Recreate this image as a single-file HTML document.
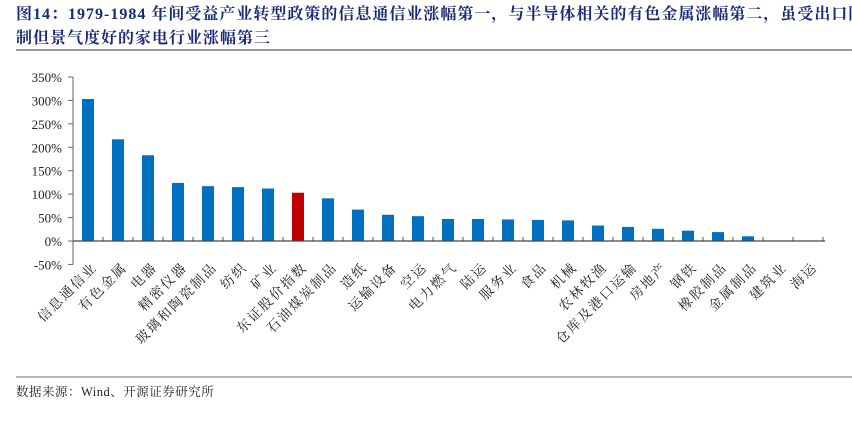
<!DOCTYPE html>
<html><head><meta charset="utf-8"><style>
body{margin:0;background:#fff;}
svg text{font-family:"Liberation Serif","Noto Serif CJK SC",serif;}
</style></head><body>
<svg width="852" height="426" xmlns="http://www.w3.org/2000/svg">
<text x="16" y="19" font-size="16" letter-spacing="1" font-weight="bold" fill="#1a2a7a">图14：1979-1984 年间受益产业转型政策的信息通信业涨幅第一，与半导体相关的有色金属涨幅第二，虽受出口限</text>
<text x="16" y="43" font-size="16" letter-spacing="1" font-weight="bold" fill="#1a2a7a">制但景气度好的家电行业涨幅第三</text>
<line x1="16" y1="50" x2="852" y2="50" stroke="#333" stroke-width="1"/>
<g id="plot"></g>
<line x1="16" y1="377" x2="852" y2="377" stroke="#444" stroke-width="0.8"/>
<text x="16" y="396" font-size="12.5" letter-spacing="0.5" fill="#222">数据来源：Wind、开源证券研究所</text>
</svg>
<script>
const categories=["信息通信业","有色金属","电器","精密仪器","玻璃和陶瓷制品","纺织","矿业","东证股价指数","石油煤炭制品","造纸","运输设备","空运","电力燃气","陆运","服务业","食品","机械","农林牧渔","仓库及港口运输","房地产","钢铁","橡胶制品","金属制品","建筑业","海运"];
const values=[303,217,183,124,117,115,112,103,91,67,56,53,47,47,46,45,44,33,30,26,22,19,10,0,0];
const highlight="东证股价指数";
const yTicks=[-50,0,50,100,150,200,250,300,350];
const NS="http://www.w3.org/2000/svg";
const g=document.getElementById('plot');
const x0=73,band=30,zeroY=241,pxPer=23.43/50;
const y=v=>zeroY-v*pxPer;
const xc=i=>x0+band*i+band/2;
function mk(t,a){const e=document.createElementNS(NS,t);for(const k in a)e.setAttribute(k,a[k]);g.appendChild(e);return e;}
yTicks.forEach(t=>{
 const tx=mk('text',{x:62,y:y(t)+5,'font-size':13,'text-anchor':'end',fill:'#222'});
 
 
 tx.textContent=t+'%';
 const tk=mk('line',{x1:68,x2:73,y1:y(t),y2:y(t),stroke:'#666'});
 
 
});
const ya=mk('line',{x1:73,x2:73,y1:y(350),y2:y(-50),stroke:'#666'});


categories.forEach((c,i)=>{
 const v=values[i];
 const r=mk('rect',{x:xc(i)-6,y:Math.min(y(v),zeroY),width:12,height:Math.abs(y(v)-zeroY),fill:c===highlight?'#c00000':'#0070c0'});
 
 
 const tk=mk('line',{x1:x0+band*(i+1),x2:x0+band*(i+1),y1:zeroY-4,y2:zeroY,stroke:'#555'});
 
 
 const ax=xc(i)+10, ay=268;
 const t=mk('text',{x:ax,y:ay,'font-size':13.5,'letter-spacing':2,'text-anchor':'end',fill:'#222',transform:`rotate(-45 ${ax} ${ay})`});
 
 
 t.textContent=c;
});
const xa=mk('line',{x1:73,x2:825,y1:zeroY,y2:zeroY,stroke:'#444','stroke-width':1.2});


</script>
</body></html>
